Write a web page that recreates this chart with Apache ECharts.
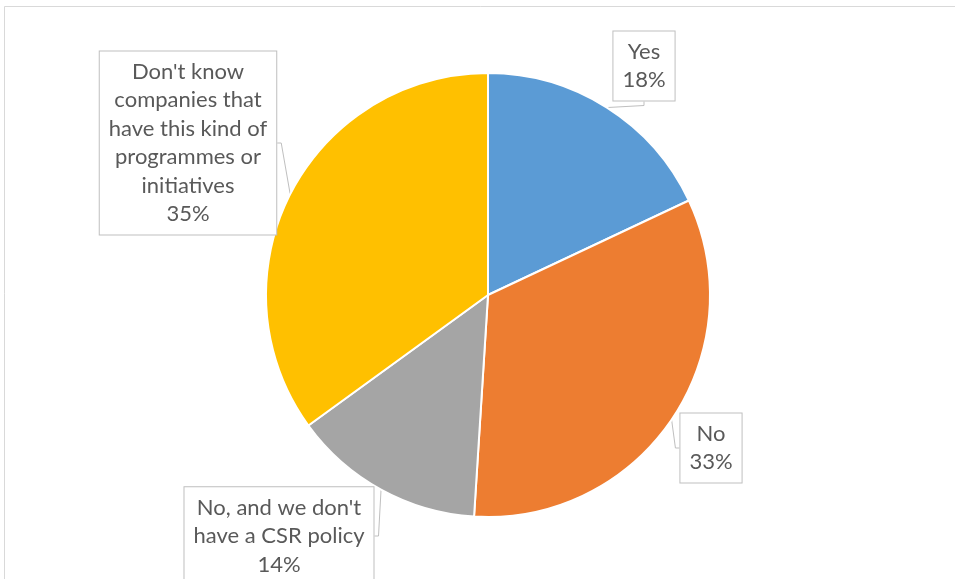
<!DOCTYPE html>
<html>
<head>
<meta charset="utf-8">
<script src="https://cdn.jsdelivr.net/npm/echarts@6/dist/echarts.min.js"></script>
<style>
  html, body { margin: 0; padding: 0; background: #fff; }
  #chart { width: 955px; height: 579px; }
</style>
</head>
<body>
<div id="chart"></div>
<script>
// Survey answers and their shares (%)
const categories = [
  "Yes",
  "No",
  "No, and we don't\nhave a CSR policy",
  "Don't know\ncompanies that\nhave this kind of\nprogrammes or\ninitiatives"
];
const shares = [18, 33, 14, 35];
const sliceColors = ["#5B9BD5", "#ED7D31", "#A5A5A5", "#FFC000"];

// Callout box centres for each answer label
const calloutCentres = [
  [644, 66],
  [711, 448],
  [279, 536],
  [188, 143]
];

const chart = echarts.init(document.getElementById('chart'), null, { renderer: 'canvas' });

chart.setOption({
  animation: false,
  backgroundColor: '#ffffff',
  graphic: [{
    type: 'rect',
    shape: { x: 4.5, y: 6.5, width: 1000, height: 600 },
    style: { fill: 'none', stroke: '#d9d9d9', lineWidth: 1 }
  }],
  series: [{
    type: 'pie',
    center: [488, 295],
    radius: 222,
    startAngle: 90,
    clockwise: true,
    data: categories.map((name, i) => ({
      name: name,
      value: shares[i],
      itemStyle: { color: sliceColors[i] }
    })),
    itemStyle: { borderColor: '#ffffff', borderWidth: 2 },
    label: {
      show: true,
      position: 'outside',
      formatter: '{b}\n{d}%',
      fontFamily: 'Lato, "Open Sans", sans-serif',
      fontSize: 22,
      lineHeight: 28.5,
      color: '#595959',
      align: 'center',
      backgroundColor: '#ffffff',
      borderColor: '#bfbfbf',
      borderWidth: 1,
      padding: [6, 9, 6, 9]
    },
    labelLine: {
      show: true,
      length: 4,
      length2: 4,
      lineStyle: { color: '#bfbfbf', width: 1 }
    },
    labelLayout: function (params) {
      const c = calloutCentres[params.dataIndex];
      return { x: c[0], y: c[1], align: 'center', verticalAlign: 'middle', moveOverlap: null };
    }
  }]
});
</script>
</body>
</html>
